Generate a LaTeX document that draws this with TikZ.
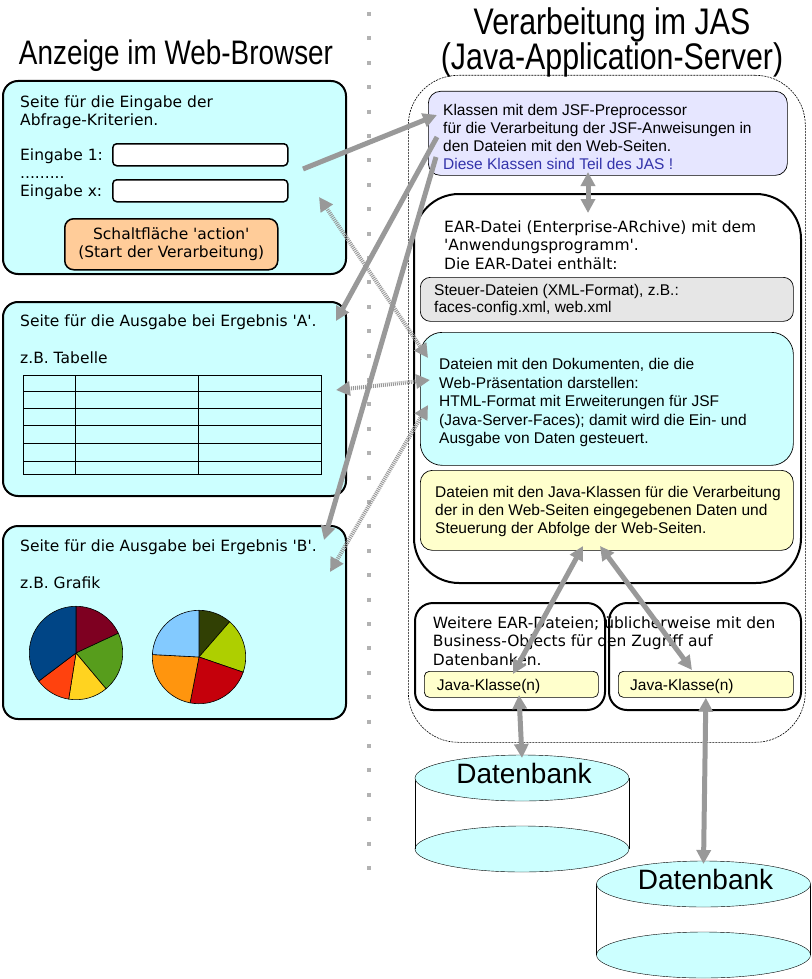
\documentclass[tikz,border=0pt]{standalone}
\usepackage{fontspec}
\setmainfont{Liberation Sans}
\newfontfamily\dejavu{DejaVu Sans}
\newfontfamily\narrowsans[FakeStretch = 0.82]{Liberation Sans}
\usetikzlibrary{arrows.meta, positioning}
\definecolor{pagecyan}{HTML}{CCFFFF}
\definecolor{actionorange}{HTML}{FFCC99}
\definecolor{jsfviolet}{HTML}{E6E6FF}
\definecolor{steuergray}{HTML}{E6E6E6}
\definecolor{javayellow}{HTML}{FFFFCC}
\definecolor{jasblue}{HTML}{3333AA}
\definecolor{flowgray}{HTML}{999999}
\definecolor{pieblue}{HTML}{004586}
\definecolor{pieorange}{HTML}{FF420E}
\definecolor{pieyellow}{HTML}{FFD320}
\definecolor{piegreen}{HTML}{579D1C}
\definecolor{piedarkred}{HTML}{7E0021}
\definecolor{pielightblue}{HTML}{83CAFF}
\definecolor{pieolive}{HTML}{314004}
\definecolor{pielime}{HTML}{AECF00}
\definecolor{pieamber}{HTML}{FF950E}
\definecolor{piered}{HTML}{C5000B}
\tikzset{
page/.style = {rectangle, draw = black, fill = pagecyan, line width = 2pt, rounded corners = 15pt, anchor = north west, inner sep = 0pt},
field/.style = {rectangle, draw = black, fill = white, line width = 1.5pt, rounded corners = 4pt, anchor = north west, inner sep = 0pt},
action/.style = {rectangle, draw = black, fill = actionorange, line width = 1.5pt, rounded corners = 9pt, anchor = north west, inner sep = 0pt, align = center, font = \dejavu\fontsize{15.5}{18}\selectfont},
page text/.style = {anchor = north west, inner sep = 0pt, align = left, font = \dejavu\fontsize{15.5}{17.5}\selectfont},
ear text/.style = {page text, font = \dejavu\fontsize{15.5}{18.5}\selectfont},
page label/.style = {anchor = base west, inner sep = 0pt, font = \dejavu\fontsize{15.5}{17.5}\selectfont},
jas/.style = {rectangle, draw = black, line width = 0.6pt, dash pattern = on 2pt off 1pt, rounded corners = 50pt, anchor = north west, inner sep = 0pt},
ear/.style = {rectangle, draw = black, line width = 2pt, anchor = north west, inner sep = 0pt},
part/.style = {rectangle, draw = black, line width = 0.7pt, fill = #1, anchor = north west, inner sep = 0pt},
jas text/.style = {anchor = north west, inner sep = 0pt, align = left, font = \fontsize{15.5}{18}\selectfont},
jas label/.style = {anchor = base west, inner sep = 0pt, font = \fontsize{15.5}{18}\selectfont},
heading/.style = {anchor = north, inner sep = 0pt, align = center},
separator/.style = {draw = black!30, line width = 4pt, dash pattern = on 4pt off 20.4pt},
flow/.style = {draw = flowgray, line width = 5pt, -{Triangle[length = 14pt, width = 14pt]}},
two way/.style = {draw = flowgray, line width = 5pt, {Triangle[length = 14pt, width = 14pt]}-{Triangle[length = 14pt, width = 14pt]}},
page link/.style = {two way, line width = 4pt, dash pattern = on 1pt off 1pt},
db label/.style = {anchor = base, inner sep = 0pt, font = \fontsize{28}{28}\selectfont},
}
\tikzset{
pics/datenbank/.style = {
        code = {
        \path[draw = black, fill = pagecyan] (0, 71) ellipse [x radius = 107, y radius = 23];
        \path[draw = black] (-107, 0) -- (-107, 71) (107, 0) -- (107, 71);
        \path[draw = black, fill = pagecyan] (0, 0) ellipse [x radius = 107, y radius = 23];
        \node[db label] (-label) at (2, 5.5) {Datenbank};
        \coordinate (-top) at (0, -20);
        }
    }
}

\begin{document}
\begin{tikzpicture}[x = 1pt, y = -1pt]
    \useasboundingbox (0, 0) rectangle (811, 979);
    % headings and separator
    \draw[separator] (369, 12) -- (369, 876);
    \node[heading, font = \narrowsans\fontsize{34}{30}\selectfont] (browser) at (176, 39.5) {Anzeige im Web-Browser};
    \node[heading, font = \narrowsans\fontsize{37}{30}\selectfont] (server) at (612, 7.5) {Verarbeitung im JAS\\(Java-Application-Server)};
    % web browser pages
    \node[page, minimum width = 343pt, minimum height = 193pt] (eingabe) at (2, 80) {};
    \node[page text] (eingabe text) at (20, 95.7) {Seite für die Eingabe der\\Abfrage-Kriterien.};
    \node[page label] (eingabe one) at (20, 160) {Eingabe 1:};
    \node[field, minimum width = 175pt, minimum height = 22pt] (field one) at (112, 143) {};
    \node[page label] (eingabe dots) at (20, 178) {.........};
    \node[page label] (eingabe x) at (20, 196.5) {Eingabe x:};
    \node[field, minimum width = 175pt, minimum height = 22pt] (field x) at (112, 179) {};
    \node[action, minimum width = 213pt, minimum height = 51pt] (action) at (64, 218) {Schaltfläche \textquotesingle action\textquotesingle\\(Start der Verarbeitung)};
    \node[page, minimum width = 343pt, minimum height = 194pt] (ergebnis a) at (2, 301) {};
    \node[page label] (ergebnis a title) at (20, 326.7) {Seite für die Ausgabe bei Ergebnis \textquotesingle A\textquotesingle.};
    \node[page label] (tabelle) at (20, 363.3) {z.B. Tabelle};
    \draw[line width = 1pt] (23, 375) rectangle (321, 474);
    \foreach \y in {391, 408, 425, 443, 461} \draw[line width = 1pt] (23, \y) -- (321, \y);
    \foreach \x in {75, 198} \draw[line width = 1pt] (\x, 375) -- (\x, 475);
    \node[page, minimum width = 343pt, minimum height = 193pt] (ergebnis b) at (2, 525) {};
    \node[page label] (ergebnis b title) at (20, 551.7) {Seite für die Ausgabe bei Ergebnis \textquotesingle B\textquotesingle.};
    \node[page label] (grafik) at (20, 588.3) {z.B. Grafik};
    \begin{scope}[shift = {(76, 653)}, yscale = -1]
    \foreach \from/\to/\fillcol in {90/25/piedarkred, 25/-50/piegreen, -50/-99/pieyellow, -99/-143/pieorange, -143/-270/pieblue}
        \path[draw = black, line width = 0.6pt, fill = \fillcol] (0, 0) -- (\from:46.7) arc[start angle = \from, end angle = \to, radius = 46.7] -- cycle;
    \end{scope}
    \begin{scope}[shift = {(199, 657)}, yscale = -1]
    \foreach \from/\to/\fillcol in {90/49/pieolive, 49/-19/pielime, -19/-101/piered, -101/-183/pieamber, -183/-270/pielightblue}
        \path[draw = black, line width = 0.6pt, fill = \fillcol] (0, 0) -- (\from:46.7) arc[start angle = \from, end angle = \to, radius = 46.7] -- cycle;
    \end{scope}
    % application server
    \node[jas, minimum width = 397pt, minimum height = 667pt] (jas) at (408, 75) {};
    \node[part = jsfviolet, minimum width = 359pt, minimum height = 84pt, rounded corners = 12pt] (jsf) at (428, 91) {};
    \node[jas text] (jsf text) at (443, 103.8) {Klassen mit dem JSF-Preprocessor\\für die Verarbeitung der JSF-Anweisungen in\\den Dateien mit den Web-Seiten.\\\textcolor{jasblue}{Diese Klassen sind Teil des JAS !}};
    \node[ear, minimum width = 387pt, minimum height = 389pt, rounded corners = 45pt] (ear) at (413, 193) {};
    \node[ear text] (ear title) at (444, 220.2) {EAR-Datei (Enterprise-ARchive) mit dem\\\textquotesingle Anwendungsprogramm\textquotesingle.\\Die EAR-Datei enthält:};
    \node[part = steuergray, minimum width = 373pt, minimum height = 44pt, rounded corners = 10pt] (steuer) at (420, 277) {};
    \node[jas text, font = \fontsize{15.5}{17}\selectfont] (steuer text) at (434, 283.7) {Steuer-Dateien (XML-Format), z.B.:\\faces-config.xml, web.xml};
    \node[part = pagecyan, minimum width = 373pt, minimum height = 133pt, rounded corners = 22pt] (dokumente) at (420, 332) {};
    \node[jas text, font = \fontsize{15.5}{18.5}\selectfont] (dokumente text) at (439, 358.3) {Dateien mit den Dokumenten, die die\\Web-Präsentation darstellen:\\HTML-Format mit Erweiterungen für JSF\\(Java-Server-Faces); damit wird die Ein- und\\Ausgabe von Daten gesteuert.};
    \node[part = javayellow, minimum width = 373pt, minimum height = 80pt, rounded corners = 12pt] (klassen) at (420, 470) {};
    \node[jas text] (klassen text) at (435, 486.3) {Dateien mit den Java-Klassen für die Verarbeitung\\der in den Web-Seiten eingegebenen Daten und\\Steuerung der Abfolge der Web-Seiten.};
    \node[ear, minimum width = 190pt, minimum height = 107pt, rounded corners = 18pt] (weitere one) at (414, 602) {};
    \node[ear, minimum width = 192pt, minimum height = 107pt, rounded corners = 18pt] (weitere two) at (608, 602) {};
    \node[ear text] (weitere text) at (432.7, 616.5) {Weitere EAR-Dateien; üblicherweise mit den\\Business-Objects für den Zugriff auf\\Datenbanken.};
    \node[part = javayellow, minimum width = 174pt, minimum height = 26pt, rounded corners = 5pt] (klasse one) at (424, 671) {};
    \node[part = javayellow, minimum width = 175pt, minimum height = 26pt, rounded corners = 5pt] (klasse two) at (618, 671) {};
    \node[jas label] (klasse one text) at (436.7, 690) {Java-Klasse(n)};
    \node[jas label] (klasse two text) at (630, 690) {Java-Klasse(n)};
    \pic (db one) at (522, 778) {datenbank};
    \pic (db two) at (703.5, 884) {datenbank};
    % connectors
    \coordinate (send) at (303, 169);
    \coordinate (jsf in) at (437, 115);
    \coordinate (jsf out a) at (437, 137);
    \coordinate (ergebnis a in) at (336, 321);
    \coordinate (jsf out b) at (436, 157);
    \coordinate (ergebnis b in) at (324, 540);
    \coordinate (jsf bottom) at (588, 172);
    \coordinate (ear top) at (588, 213);
    \coordinate (eingabe link) at (319, 197);
    \coordinate (dokumente link a) at (428, 358);
    \coordinate (ergebnis a link) at (336, 390);
    \coordinate (dokumente link b) at (430, 380);
    \coordinate (dokumente link c) at (428, 405);
    \coordinate (ergebnis b link) at (330, 572);
    \coordinate (klassen out one) at (583, 546);
    \coordinate (klassen out two) at (600, 546);
    \coordinate (klasse one in) at (513, 674);
    \coordinate (klasse two in) at (692, 670);
    \coordinate (klasse one out) at (519, 695);
    \draw[flow] (send) -- (jsf in);
    \draw[flow] (jsf out a) -- (ergebnis a in);
    \draw[flow] (jsf out b) -- (ergebnis b in);
    \draw[two way] (jsf bottom) -- (ear top);
    \draw[page link] (eingabe link) -- (dokumente link a);
    \draw[page link] (ergebnis a link) -- (dokumente link b);
    \draw[page link] (dokumente link c) -- (ergebnis b link);
    \draw[two way] (klassen out one) -- (klasse one in);
    \draw[two way] (klassen out two) -- (klasse two in);
    \draw[two way] (klasse one out) -- (db one-top);
    \draw[two way] (klasse two.south) -- (db two-top);
\end{tikzpicture}
\end{document}
